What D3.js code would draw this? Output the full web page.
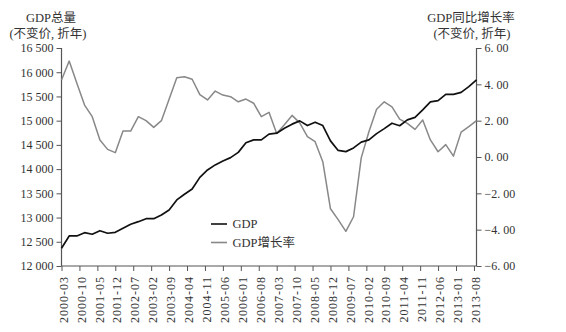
<!DOCTYPE html>
<html>
<head>
<meta charset="utf-8">
<script src="https://cdn.jsdelivr.net/npm/d3@7/dist/d3.min.js"></script>
<style>
  html, body { margin: 0; padding: 0; background: #fff; }
  svg { display: block; }
  text { font-family: "Liberation Serif", "Noto Sans CJK SC", serif; fill: #333; }
</style>
</head>
<body>
<svg id="chart" width="566" height="332"></svg>
<script>
// Quarterly observations (quarter-end month)
const quarters = [
  "2000-03","2000-06","2000-09","2000-12","2001-03","2001-06","2001-09","2001-12",
  "2002-03","2002-06","2002-09","2002-12","2003-03","2003-06","2003-09","2003-12",
  "2004-03","2004-06","2004-09","2004-12","2005-03","2005-06","2005-09","2005-12",
  "2006-03","2006-06","2006-09","2006-12","2007-03","2007-06","2007-09","2007-12",
  "2008-03","2008-06","2008-09","2008-12","2009-03","2009-06","2009-09","2009-12",
  "2010-03","2010-06","2010-09","2010-12","2011-03","2011-06","2011-09","2011-12",
  "2012-03","2012-06","2012-09","2012-12","2013-03","2013-06","2013-09"
];

// GDP level (constant prices, annualised)
const gdp = [
  12366, 12620, 12620, 12688, 12655, 12729, 12676, 12696,
  12779, 12862, 12915, 12977, 12977, 13054, 13157, 13364,
  13481, 13590, 13830, 13983, 14087, 14169, 14237, 14345,
  14545, 14603, 14603, 14721, 14741, 14845, 14928, 14996,
  14899, 14969, 14899, 14583, 14386, 14361, 14438, 14556,
  14603, 14733, 14835, 14948, 14896, 15016, 15068, 15223,
  15388, 15413, 15543, 15543, 15584, 15704, 15843
];

// GDP year-on-year growth rate (constant prices, annualised)
const growth = [
  4.24, 5.28, 4.06, 2.86, 2.22, 0.94, 0.42, 0.24,
  1.43, 1.43, 2.22, 2.00, 1.63, 2.00, 3.18, 4.36,
  4.42, 4.28, 3.43, 3.14, 3.63, 3.41, 3.32, 3.04,
  3.19, 2.96, 2.22, 2.46, 1.30, 1.78, 2.29, 1.88,
  1.12, 0.84, -0.26, -2.85, -3.45, -4.09, -3.29, -0.05,
  1.39, 2.63, 3.04, 2.76, 2.09, 1.85, 1.52, 2.04,
  0.94, 0.29, 0.68, 0.05, 1.37, 1.67, 2.00
];

const xTickLabels = [
  "2000-03","2000-10","2001-05","2001-12","2002-07","2003-02","2003-09","2004-04",
  "2004-11","2005-06","2006-01","2006-08","2007-03","2007-10","2008-05","2008-12",
  "2009-07","2010-02","2010-09","2011-04","2011-11","2012-06","2013-01","2013-08"
];
const leftTicks = [12000, 12500, 13000, 13500, 14000, 14500, 15000, 15500, 16000, 16500];
const rightTicks = [-6, -4, -2, 0, 2, 4, 6];

const seriesNames = ["GDP", "GDP增长率"];
const leftTitle = ["GDP总量", "(不变价, 折年)"];
const rightTitle = ["GDP同比增长率", "(不变价, 折年)"];

// month offset from the first observation
const monthIndex = s => {
  const [y, m] = s.split("-").map(Number);
  return (y - 2000) * 12 + (m - 3);
};

const svg = d3.select("#chart");
const plotLeft = 61.5, plotRight = 476.5, plotTop = 48, plotBottom = 266;
const axisColor = "#555";

const x = d3.scaleLinear()
  .domain([0, monthIndex(quarters[quarters.length - 1])])
  .range([plotLeft, plotRight]);
const yL = d3.scaleLinear().domain([12000, 16500]).range([plotBottom, plotTop]);
const yR = d3.scaleLinear().domain([-6, 6]).range([plotBottom, plotTop]);

const fmtThousands = v => {
  const s = String(v);
  return s.slice(0, s.length - 3) + " " + s.slice(-3);
};
const fmtRate = v => (v < 0 ? "\u2212" : "") + Math.abs(v).toFixed(2).replace(".", ". ");

// left axis
const gL = svg.append("g").attr("transform", `translate(${plotLeft},0)`)
  .call(d3.axisLeft(yL).tickValues(leftTicks).tickSize(5).tickPadding(3).tickFormat(fmtThousands));
// right axis
const gR = svg.append("g").attr("transform", `translate(${plotRight},0)`)
  .call(d3.axisRight(yR).tickValues(rightTicks).tickSize(5).tickPadding(3).tickFormat(fmtRate));
// bottom axis
const gB = svg.append("g").attr("transform", `translate(0,${plotBottom})`)
  .call(d3.axisBottom(x).tickValues(xTickLabels.map(monthIndex)).tickSize(5).tickFormat((d, i) => xTickLabels[i]));

[gL, gR, gB].forEach(g => {
  g.select(".domain").attr("stroke", axisColor).attr("stroke-width", 1.2);
  g.selectAll(".tick line").attr("stroke", axisColor).attr("stroke-width", 1);
  g.selectAll("text").attr("font-size", 12).attr("fill", "#333")
    .attr("font-family", "Liberation Serif, serif");
});
// plain axis lines without outer-tick overhang
gL.select(".domain").attr("d", `M0,${plotBottom}V${plotTop}`);
gR.select(".domain").attr("d", `M0,${plotBottom}V${plotTop}`);
gB.select(".domain").attr("d", `M${plotLeft},0H${plotRight}`);

gB.selectAll(".tick text")
  .attr("text-anchor", "end")
  .attr("transform", "rotate(-90)")
  .attr("letter-spacing", 1)
  .attr("x", -10)
  .attr("y", 1.5)
  .attr("dy", "0.35em");

// lines
const pts = quarters.map((q, i) => ({ m: monthIndex(q), g: gdp[i], r: growth[i] }));
svg.append("path").datum(pts)
  .attr("fill", "none").attr("stroke", "#888").attr("stroke-width", 1.5)
  .attr("stroke-linejoin", "round")
  .attr("d", d3.line().x(d => x(d.m)).y(d => yR(d.r)));
svg.append("path").datum(pts)
  .attr("fill", "none").attr("stroke", "#111").attr("stroke-width", 1.7)
  .attr("stroke-linejoin", "round")
  .attr("d", d3.line().x(d => x(d.m)).y(d => yL(d.g)));

// titles
const tL = svg.append("g");
tL.append("text").attr("x", 51).attr("y", 22).attr("text-anchor", "middle").attr("font-size", 12.5).text(leftTitle[0]);
tL.append("text").attr("x", 48).attr("y", 38).attr("text-anchor", "middle").attr("font-size", 12.5).text(leftTitle[1]);
const tR = svg.append("g");
tR.append("text").attr("x", 471).attr("y", 22).attr("text-anchor", "middle").attr("font-size", 12.5).text(rightTitle[0]);
tR.append("text").attr("x", 472).attr("y", 38).attr("text-anchor", "middle").attr("font-size", 12.5).text(rightTitle[1]);

// legend
const legendColors = ["#111", "#888"];
const lg = svg.append("g").attr("transform", "translate(211,224)");
seriesNames.forEach((name, i) => {
  const row = lg.append("g").attr("transform", `translate(0,${i * 18.5})`);
  row.append("line").attr("x1", 0).attr("x2", 16).attr("y1", 0).attr("y2", 0)
    .attr("stroke", legendColors[i]).attr("stroke-width", 1.6);
  row.append("text").attr("x", 21.5).attr("y", 0).attr("dy", "0.35em")
    .attr("font-size", 12.5).text(name);
});
</script>
</body>
</html>
